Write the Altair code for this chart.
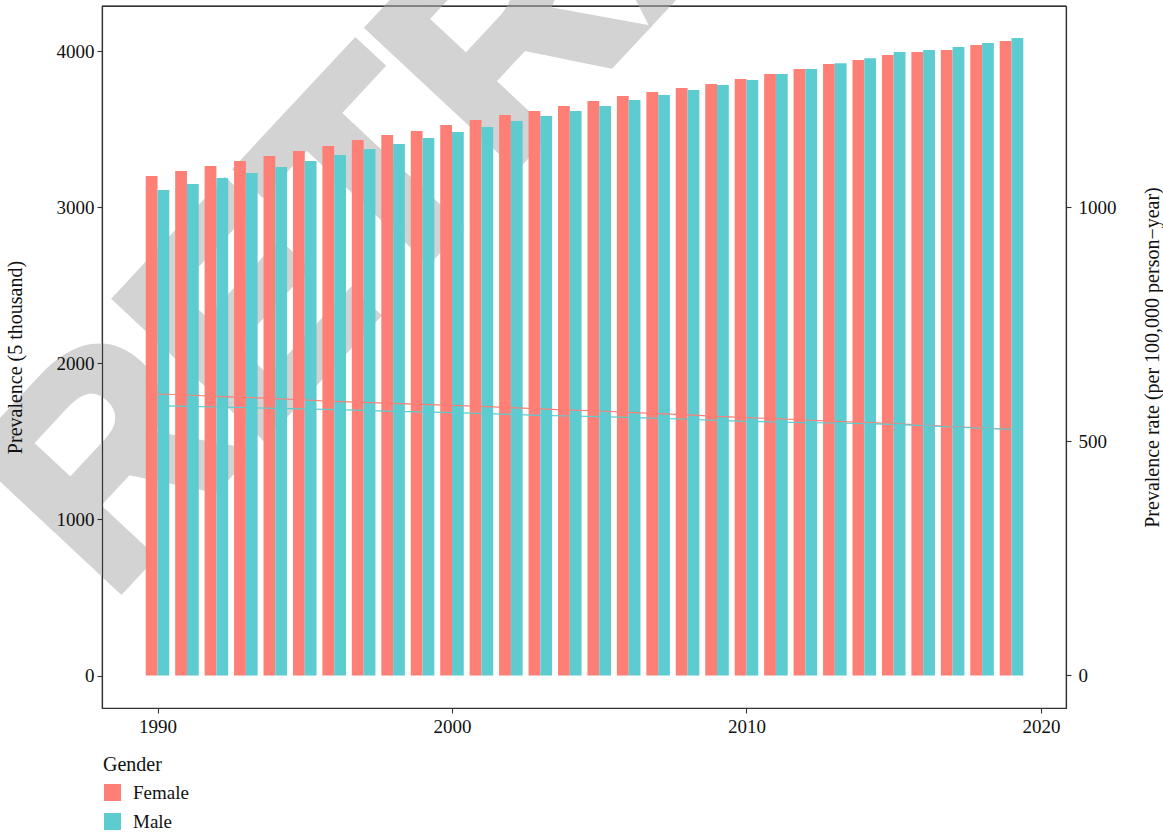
import altair as alt
import pandas as pd

# ---- data -------------------------------------------------------------
years = list(range(1990, 2020))

female_prevalence = [3200, 3232, 3264, 3296, 3328, 3360, 3392, 3430, 3462, 3488,
                     3527, 3559, 3590, 3616, 3648, 3680, 3712, 3738, 3764, 3789,
                     3821, 3853, 3885, 3917, 3943, 3975, 3994, 4007, 4039, 4065]
male_prevalence = [3110, 3149, 3187, 3219, 3258, 3296, 3334, 3373, 3405, 3443,
                   3482, 3514, 3552, 3584, 3616, 3648, 3687, 3719, 3751, 3783,
                   3815, 3853, 3885, 3923, 3955, 3994, 4007, 4026, 4052, 4084]

female_rate = [601.0, 598.8, 596.0, 593.9, 591.0, 588.2, 585.3, 583.2, 581.1, 578.9,
               576.8, 574.7, 571.7, 569.0, 566.4, 564.7, 561.9, 559.0, 556.2, 553.4,
               550.4, 548.3, 545.5, 542.7, 540.6, 537.6, 534.8, 531.2, 528.4, 525.6]
male_rate = [576.0, 574.7, 573.2, 571.7, 570.4, 569.0, 567.5, 566.2, 564.0, 562.6,
             561.1, 559.8, 557.6, 555.5, 554.0, 552.5, 551.2, 549.1, 547.0, 544.8,
             542.7, 541.2, 539.7, 539.1, 537.6, 536.3, 533.3, 530.5, 527.8, 525.6]

genders = ["Female", "Male"]
palette = ["#FD7F76", "#5DCCD0"]

df = pd.concat([
    pd.DataFrame({"year": years, "gender": "Female",
                  "prevalence": female_prevalence, "rate": female_rate}),
    pd.DataFrame({"year": years, "gender": "Male",
                  "prevalence": male_prevalence, "rate": male_rate}),
])

# ---- styling ----------------------------------------------------------
W, H = 964, 702
SERIF = "Liberation Serif"
INK = "#333333"

x_scale = alt.Scale(domain=[1988.115, 2020.85], nice=False, zero=False)
y_scale = alt.Scale(domain=[-208, 4289], nice=False, zero=False)
r_scale = alt.Scale(domain=[-69.4, 1429.3], nice=False, zero=False)

common_axis = dict(
    grid=False, domainColor=INK, domainWidth=1.2, tickColor=INK, tickWidth=1.1,
    tickSize=5, labelFont=SERIF, labelFontSize=19, labelColor="#111111",
    titleFont=SERIF, titleFontSize=20, titleFontWeight="normal",
    titleColor="#111111", zindex=1, format="d",
)

x_axis = alt.Axis(values=[1990, 2000, 2010, 2020], title=None,
                  labelPadding=4, **common_axis)
left_axis = alt.Axis(values=[0, 1000, 2000, 3000, 4000], orient="left",
                     title="Prevalence (5 thousand)", labelPadding=3,
                     titleAngle=270, titleX=-87, titleY=H / 2,
                     titleAlign="center", titleBaseline="middle",
                     **common_axis)
right_axis = alt.Axis(values=[0, 500, 1000], orient="right",
                      title="Prevalence rate (per 100,000 person\u2212year)",
                      labelPadding=7, titleAngle=270, titleX=86, titleY=H / 2,
                      titleAlign="center", titleBaseline="middle",
                      **common_axis)

# ---- layers -----------------------------------------------------------
watermark = alt.Chart(pd.DataFrame({"t": ["RETRACTED"]})).mark_text(
    angle=313, font="Liberation Sans", fontWeight="bold", fontSize=290,
    color="#d3d3d3", stroke="#d3d3d3", strokeWidth=10, strokeJoin="miter",
    align="left", baseline="alphabetic",
).encode(text="t:N", x=alt.value(6), y=alt.value(596))

bars = alt.Chart(df).transform_calculate(
    x0="datum.gender == 'Female' ? datum.year - 0.4 : datum.year",
    x1="datum.gender == 'Female' ? datum.year : datum.year + 0.4",
).mark_bar().encode(
    x=alt.X("x0:Q", scale=x_scale, axis=x_axis),
    x2="x1:Q",
    y=alt.Y("prevalence:Q", scale=y_scale, axis=left_axis),
    y2=alt.datum(0),
    color=alt.Color(
        "gender:N",
        scale=alt.Scale(domain=genders, range=palette),
        legend=alt.Legend(
            title="Gender", orient="none", legendX=1, legendY=749,
            direction="vertical", symbolType="square", symbolSize=289,
            symbolStrokeWidth=0, symbolOpacity=1, labelFont=SERIF,
            labelFontSize=19, labelColor="#111111", labelOffset=11,
            titleFont=SERIF, titleFontSize=20, titleFontWeight="normal",
            titleColor="#111111", titlePadding=8, rowPadding=9, padding=0,
        ),
    ),
)

lines = alt.Chart(df).mark_line(strokeWidth=1.2).encode(
    x=alt.X("year:Q", scale=x_scale),
    y=alt.Y("rate:Q", scale=r_scale, axis=right_axis),
    stroke=alt.Stroke("gender:N",
                      scale=alt.Scale(domain=genders, range=palette),
                      legend=None),
)

top_border = alt.Chart(pd.DataFrame({"k": [0]})).mark_rule(
    color=INK, strokeWidth=1.2
).encode(x=alt.value(0), x2=alt.value(W), y=alt.value(0))

chart = alt.layer(watermark, bars, lines, top_border).resolve_scale(
    y="independent"
).properties(
    width=W, height=H,
    autosize=alt.AutoSizeParams(type="none"),
    padding={"left": 102, "top": 6, "right": 97, "bottom": 126},
).configure_view(stroke=INK, strokeWidth=1.2)

chart.save("out.html", embed_options={"renderer": "svg", "actions": False})
